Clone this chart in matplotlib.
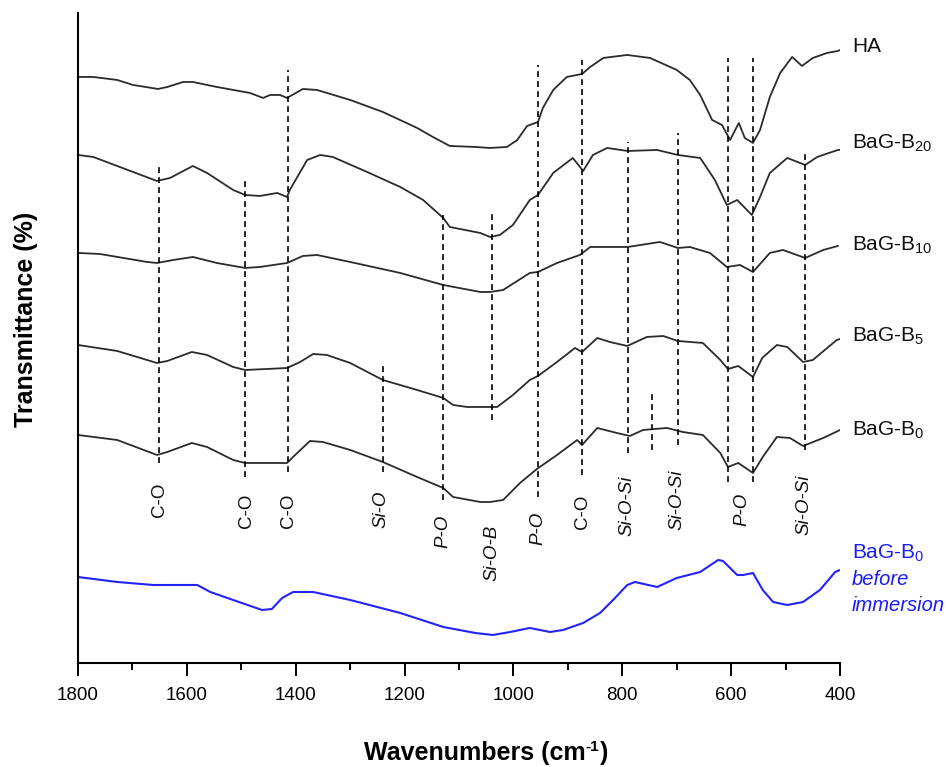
import matplotlib

matplotlib.use("Agg")
import matplotlib.pyplot as plt  # noqa: E402
from matplotlib.ticker import MultipleLocator  # noqa: E402

plt.rcParams["font.family"] = ["Liberation Sans", "DejaVu Sans"]
plt.rcParams["mathtext.fontset"] = "custom"
plt.rcParams["mathtext.rm"] = "Liberation Sans"
plt.rcParams["mathtext.it"] = "Liberation Sans:italic"
plt.rcParams["mathtext.bf"] = "Liberation Sans:bold"

# 스펙트럼 데이터 (파수 cm-1, 상대 투과율 — 곡선별 오프셋 포함)
ha_w = [1800, 1772, 1728, 1699, 1653, 1636, 1607, 1589, 1545, 1484, 1460, 1447, 1429, 1416,
        1387, 1361, 1300, 1240, 1177, 1148, 1117, 1070, 1043, 1012, 993, 975, 955, 946, 927,
        902, 874, 859, 835, 791, 749, 700, 676, 657, 635, 617, 602, 586, 575, 560, 547, 529,
        510, 488, 470, 450, 424, 404, 400]
ha_t = [586, 586, 583, 578, 574, 576, 581, 581, 576, 570, 565, 568, 568, 565,
        574, 573, 563, 551, 535, 526, 517, 516, 515, 516, 523, 537, 541, 555, 573,
        586, 589, 596, 605, 608, 605, 593, 583, 568, 543, 538, 523, 540, 525, 520, 533, 566,
        590, 606, 597, 605, 610, 612, 613]

b20_w = [1800, 1772, 1699, 1655, 1631, 1589, 1563, 1515, 1493, 1466, 1434, 1416, 1411, 1379,
         1355, 1332, 1269, 1208, 1166, 1129, 1117, 1061, 1043, 1025, 1001, 970, 955, 927, 891,
         872, 854, 828, 790, 736, 698, 657, 652, 630, 608, 589, 562, 547, 529, 497, 464, 442,
         404, 400]
b20_t = [508, 506, 491, 482, 485, 497, 490, 473, 468, 467, 470, 466, 473, 503,
         508, 506, 491, 476, 463, 445, 436, 430, 426, 428, 438, 463, 468, 490, 505,
         492, 508, 515, 512, 513, 508, 505, 501, 483, 458, 463, 448, 466, 490, 505, 498, 506,
         513, 513]

b10_w = [1800, 1760, 1673, 1655, 1625, 1589, 1545, 1493, 1466, 1416, 1387, 1361, 1300, 1208,
         1129, 1061, 1043, 1019, 970, 955, 920, 878, 859, 790, 731, 698, 676, 639, 608, 584,
         560, 529, 505, 464, 431, 404]
b10_t = [410, 409, 401, 400, 403, 406, 400, 395, 396, 400, 407, 408, 401, 390,
         378, 371, 371, 373, 390, 391, 400, 408, 416, 416, 421, 415, 416, 410, 396, 398,
         391, 410, 413, 405, 413, 417]

b5_w = [1800, 1728, 1655, 1636, 1591, 1563, 1515, 1493, 1453, 1416, 1392, 1368, 1343, 1300,
        1240, 1177, 1129, 1111, 1085, 1043, 1030, 1001, 970, 955, 920, 887, 874, 846, 823, 791,
        755, 725, 698, 652, 620, 606, 587, 560, 543, 516, 497, 468, 450, 406, 400]
b5_t = [318, 312, 300, 302, 311, 308, 296, 293, 294, 295, 301, 309, 308, 300,
        283, 273, 265, 258, 256, 256, 256, 268, 283, 287, 301, 315, 311, 325, 321, 317,
        326, 327, 322, 320, 303, 294, 297, 286, 305, 318, 316, 301, 303, 323, 324]

b0_w = [1800, 1728, 1655, 1636, 1591, 1563, 1515, 1493, 1416, 1405, 1374, 1350, 1300, 1240,
        1177, 1129, 1111, 1061, 1043, 1019, 988, 957, 920, 883, 874, 846, 810, 786, 762, 718,
        689, 652, 620, 606, 587, 560, 542, 516, 492, 468, 431, 400]
b0_t = [228, 223, 208, 211, 220, 216, 203, 200, 200, 206, 222, 221, 213, 201,
        186, 175, 166, 161, 161, 163, 180, 194, 208, 223, 218, 235, 230, 227, 233, 235,
        231, 228, 210, 196, 200, 190, 206, 226, 225, 217, 225, 233]

pre_w = [1800, 1728, 1662, 1581, 1557, 1515, 1462, 1444, 1425, 1405, 1368, 1300, 1208, 1129,
         1070, 1038, 1006, 970, 933, 909, 872, 841, 817, 791, 777, 736, 700, 657, 624, 615,
         589, 578, 560, 542, 523, 497, 468, 437, 409, 400]
pre_t = [86, 81, 78, 78, 71, 63, 53, 54, 65, 71, 71, 63, 50, 36,
         30, 28, 31, 35, 31, 33, 40, 50, 63, 78, 81, 76, 85, 91, 103, 102,
         88, 88, 90, 73, 61, 58, 61, 73, 91, 93]

black_curves = [(ha_w, ha_t), (b20_w, b20_t), (b10_w, b10_t), (b5_w, b5_t), (b0_w, b0_t)]
curve_names = ["HA", "BaG-B$_{20}$", "BaG-B$_{10}$", "BaG-B$_{5}$", "BaG-B$_{0}$"]
name_t = [616, 520, 418, 327, 233]

# 피크 위치 (점선) 및 범위
peak_w = [1652, 1493, 1415, 1240, 1129, 1040, 955, 874, 789, 745, 697, 605, 560, 465]
peak_top = [498, 483, 593, 298, 448, 450, 598, 603, 521, 270, 530, 605, 605, 511]
peak_bot = [200, 186, 191, 191, 163, 243, 166, 188, 210, 213, 218, 181, 181, 213]

bond_labels = ["C-O", "C-O", "C-O", "Si-O", "P-O", "Si-O-B", "P-O", "C-O",
               "Si-O-Si", "Si-O-Si", "P-O", "Si-O-Si"]
bond_w = [1650, 1490, 1413, 1243, 1129, 1040, 955, 874, 791, 699, 581, 467]
bond_t = [163, 152, 152, 154, 132, 110, 135, 151, 157, 163, 154, 158]

fig = plt.figure(figsize=(9.46, 7.67), dpi=100)
ax = fig.add_axes([0.0825, 0.1356, 0.8055, 0.8475])

for w, t in black_curves:
    ax.plot(w, t, color="#2b2b2b", lw=1.3, solid_joinstyle="round")
ax.plot(pre_w, pre_t, color="#2323ff", lw=1.5)

ax.vlines(peak_w, peak_bot, peak_top, colors="black", lw=1.2,
          linestyles=(0, (3.5, 2.5)))

for lab, w, t in zip(bond_labels, bond_w, bond_t):
    style = "normal" if lab == "C-O" else "italic"
    ax.text(w, t, lab, rotation=90, ha="center", va="center", fontsize=13.5,
            style=style, color="#111111")

for name, t in zip(curve_names, name_t):
    ax.text(378, t, name, ha="left", va="center", fontsize=15, color="#111111")
ax.text(378, 110, "BaG-B$_{0}$", ha="left", va="center", fontsize=15, color="#1a1aff")
ax.text(378, 83, "before", ha="left", va="center", fontsize=14.5, color="#1a1aff",
        style="italic")
ax.text(378, 57, "immersion", ha="left", va="center", fontsize=14.5, color="#1a1aff",
        style="italic")

ax.set_xlim(1800, 400)
ax.set_ylim(0, 650)
ax.xaxis.set_major_locator(MultipleLocator(200))
ax.xaxis.set_minor_locator(MultipleLocator(100))
ax.set_yticks([])
for side in ("top", "right"):
    ax.spines[side].set_visible(False)
for side in ("left", "bottom"):
    ax.spines[side].set_linewidth(1.5)
ax.tick_params(axis="x", which="major", direction="out", length=9, width=1.4,
               labelsize=13.5, pad=8)
ax.tick_params(axis="x", which="minor", direction="out", length=5, width=1.4)

# x축 제목: 위첨자 "-1"은 하이픈 그대로 쓰기 위해 조각으로 배치
renderer = fig.canvas.get_renderer()
base_y = 1 - 760 / 767
parts = [("Wavenumbers (cm", 18, 0), ("-1", 11, 9), (")", 18, 0)]
texts = [fig.text(0, base_y, s, fontsize=fs, fontweight="bold", va="baseline")
         for s, fs, _ in parts]
widths = [t.get_window_extent(renderer).width for t in texts]
x_px = 486 - sum(widths) / 2
for t, wd, (_, _, rise) in zip(texts, widths, parts):
    t.set_position((x_px / 946, base_y + rise / 767))
    x_px += wd

fig.text(26 / 946, 1 - 319 / 767, "Transmittance (%)", ha="center", va="center",
         rotation=90, fontsize=18, fontweight="bold")

fig.savefig("out.png", dpi=100)
plt.close(fig)
